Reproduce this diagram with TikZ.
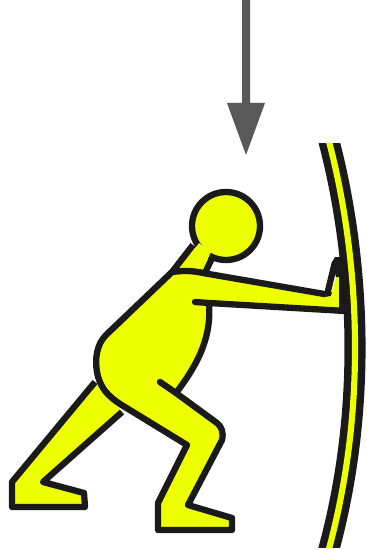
\documentclass[tikz,border=0pt]{standalone}
\usepackage{tikz}
\definecolor{bodyyellow}{HTML}{EEFF00}
\definecolor{outline}{HTML}{1A1A1A}
\definecolor{arrowgray}{HTML}{595959}
\tikzset{
    figure/.style={draw=outline, fill=bodyyellow, line width=3.6pt, line join=round},
    stroke/.style={draw=outline, line width=3.6pt, line cap=round, line join=round},
}
\begin{document}
\begin{tikzpicture}[x=0.02cm, y=-0.02cm]
    \useasboundingbox (0,0) rectangle (366,550);

    \fill[arrowgray] (242,0) -- (250,0) -- (250,103) -- (265,103) -- (246,155) -- (227,103) -- (242,103) -- cycle;

    \draw[figure] (95,382) -- (12,482) -- (12,507) -- (85,507) -- (84,493) -- (43,482) -- (122,412);

    \draw[figure] (193,245) -- (172,272) -- (205,273) -- (212,258);
    \draw[figure] (226,226) circle (34);
    \fill[bodyyellow] (199,243) -- (180,269) -- (203,269) -- (211,252) -- cycle;

    \draw[figure] (172,272) -- (106,335)
        .. controls (96,345) and (95,360) .. (97,372)
        .. controls (100,388) and (108,396) .. (120,404)
        -- (187,445) -- (158,503) -- (158,530) -- (232,530) -- (232,518) -- (188,505) -- (222,440)
        .. controls (224,432) and (221,426) .. (217,423)
        -- (176,393)
        .. controls (195,368) and (212,340) .. (209,303)
        -- (345,311) -- (338,296) -- (330,295) -- (203,273)
        .. controls (190,270) and (180,271) .. (172,272) -- cycle;

    \draw[stroke] (160,382) -- (176,393);
    \draw[stroke] (195,302) -- (209,303);
    \draw[figure] (327,295) -- (335,262);
    \fill[bodyyellow] (325,297) -- (331,296) -- (336,277) -- (339,277) -- (339,307) -- (325,306) -- cycle;
    \fill[outline] (332,262) -- (335,257) -- (342,257) -- (348,257) -- (348,313) -- (339,312) -- (339,277) -- (336,277) -- cycle;

    \begin{scope}
        \clip (300,144) rectangle (366,547);
        \draw[outline, line width=12pt] (327,134) .. controls (352,225) and (375,385) .. (327,556);
        \draw[bodyyellow, line width=3.5pt] (327,134) .. controls (352,225) and (375,385) .. (327,556);
    \end{scope}
\end{tikzpicture}
\end{document}
